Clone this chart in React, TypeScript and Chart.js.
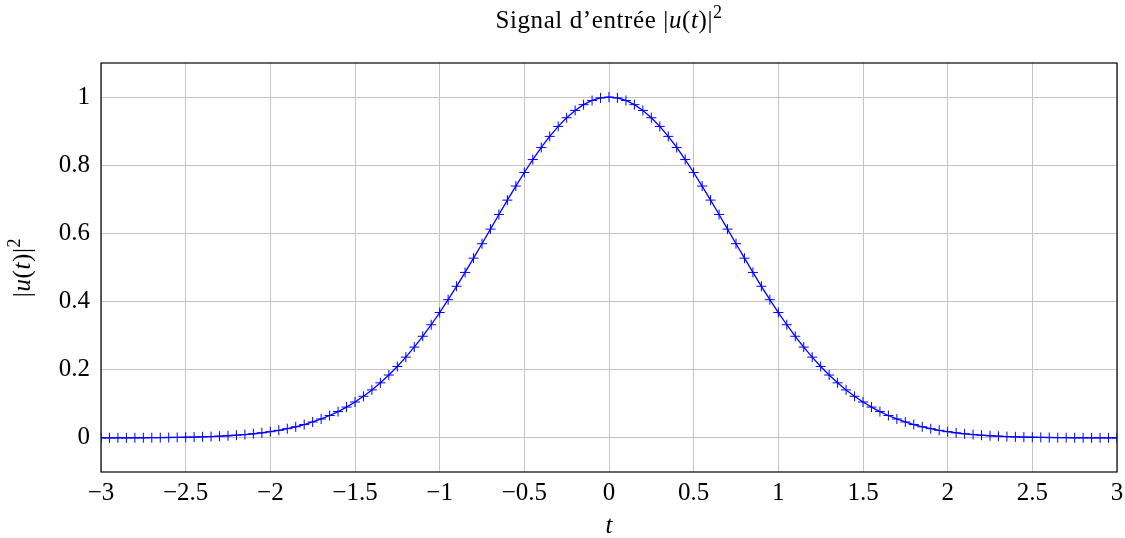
import React, { useEffect, useRef } from "react";
import { Chart, registerables } from "chart.js";

Chart.register(...registerables);

// Sample instants t
const T_VALUES = [
  -3.0, -2.95, -2.9, -2.85, -2.8, -2.75, -2.7, -2.65, -2.6, -2.55,
  -2.5, -2.45, -2.4, -2.35, -2.3, -2.25, -2.2, -2.15, -2.1, -2.05,
  -2.0, -1.95, -1.9, -1.85, -1.8, -1.75, -1.7, -1.65, -1.6, -1.55,
  -1.5, -1.45, -1.4, -1.35, -1.3, -1.25, -1.2, -1.15, -1.1, -1.05,
  -1.0, -0.95, -0.9, -0.85, -0.8, -0.75, -0.7, -0.65, -0.6, -0.55,
  -0.5, -0.45, -0.4, -0.35, -0.3, -0.25, -0.2, -0.15, -0.1, -0.05,
  0.0,
  0.05, 0.1, 0.15, 0.2, 0.25, 0.3, 0.35, 0.4, 0.45, 0.5,
  0.55, 0.6, 0.65, 0.7, 0.75, 0.8, 0.85, 0.9, 0.95, 1.0,
  1.05, 1.1, 1.15, 1.2, 1.25, 1.3, 1.35, 1.4, 1.45, 1.5,
  1.55, 1.6, 1.65, 1.7, 1.75, 1.8, 1.85, 1.9, 1.95, 2.0,
  2.05, 2.1, 2.15, 2.2, 2.25, 2.3, 2.35, 2.4, 2.45, 2.5,
  2.55, 2.6, 2.65, 2.7, 2.75, 2.8, 2.85, 2.9, 2.95, 3.0,
];

// Input signal power |u(t)|^2
const POWER_VALUES = [
  0.00012, 0.00017, 0.00022, 0.0003, 0.00039, 0.00052, 0.00068, 0.00089, 0.00116, 0.0015,
  0.00193, 0.00247, 0.00315, 0.00399, 0.00504, 0.00633, 0.00791, 0.00983, 0.01216, 0.01496,
  0.01832, 0.02231, 0.02705, 0.03263, 0.03916, 0.04677, 0.05558, 0.06571, 0.0773, 0.0905,
  0.1054, 0.12215, 0.14086, 0.16162, 0.18452, 0.20961, 0.23693, 0.26647, 0.2982, 0.33204,
  0.36788, 0.40556, 0.44486, 0.48554, 0.52729, 0.56978, 0.61263, 0.65541, 0.69768, 0.73897,
  0.7788, 0.81669, 0.85214, 0.8847, 0.91393, 0.93941, 0.96079, 0.97775, 0.99005, 0.9975,
  1.0,
  0.9975, 0.99005, 0.97775, 0.96079, 0.93941, 0.91393, 0.8847, 0.85214, 0.81669, 0.7788,
  0.73897, 0.69768, 0.65541, 0.61263, 0.56978, 0.52729, 0.48554, 0.44486, 0.40556, 0.36788,
  0.33204, 0.2982, 0.26647, 0.23693, 0.20961, 0.18452, 0.16162, 0.14086, 0.12215, 0.1054,
  0.0905, 0.0773, 0.06571, 0.05558, 0.04677, 0.03916, 0.03263, 0.02705, 0.02231, 0.01832,
  0.01496, 0.01216, 0.00983, 0.00791, 0.00633, 0.00504, 0.00399, 0.00315, 0.00247, 0.00193,
  0.0015, 0.00116, 0.00089, 0.00068, 0.00052, 0.00039, 0.0003, 0.00022, 0.00017, 0.00012,
];

const X_TICKS = [-3, -2.5, -2, -1.5, -1, -0.5, 0, 0.5, 1, 1.5, 2, 2.5, 3];
const Y_TICKS = [0, 0.2, 0.4, 0.6, 0.8, 1];

const SERIF = '"Liberation Serif", "DejaVu Serif", serif';
const FONT_SIZE = 25;
const TITLE_SIZE = 25;

type Run = { text: string; italic?: boolean; sup?: boolean };

function runFont(r: Run, size: number) {
  const s = r.sup ? Math.round(size * 0.7) : size;
  return `${r.italic ? "italic " : ""}${s}px ${SERIF}`;
}

function drawRuns(
  ctx: CanvasRenderingContext2D,
  runs: Run[],
  cx: number,
  cy: number,
  size: number,
  spacing: number
) {
  (ctx as any).letterSpacing = `${spacing}px`;
  let total = 0;
  for (const r of runs) {
    ctx.font = runFont(r, size);
    total += ctx.measureText(r.text).width;
  }
  let x = cx - total / 2;
  ctx.textBaseline = "middle";
  ctx.textAlign = "left";
  for (const r of runs) {
    ctx.font = runFont(r, size);
    ctx.fillText(r.text, x, r.sup ? cy - size * 0.32 : cy);
    x += ctx.measureText(r.text).width;
  }
  (ctx as any).letterSpacing = "0px";
}

const powerLabel: Run[] = [
  { text: "|" },
  { text: "u", italic: true },
  { text: "(" },
  { text: "t", italic: true },
  { text: ")|" },
  { text: "2", sup: true },
];

// Title, axis titles and the frame of the plot area
const annotations = {
  id: "annotations",
  afterDraw(chart: any) {
    const { ctx, chartArea } = chart;
    const { left, right, top, bottom } = chartArea;
    const cx = (left + right) / 2;
    ctx.save();
    ctx.strokeStyle = "#000";
    ctx.lineWidth = 1.2;
    ctx.strokeRect(left, top, right - left, bottom - top);
    ctx.fillStyle = "#000";
    drawRuns(ctx, [{ text: "Signal d\u2019entrée " }, ...powerLabel], cx, 21, TITLE_SIZE, 0.6);
    drawRuns(ctx, [{ text: "t", italic: true }], cx, 526, FONT_SIZE, 0);
    ctx.translate(23, (top + bottom) / 2);
    ctx.rotate(-Math.PI / 2);
    drawRuns(ctx, powerLabel, 0, 0, FONT_SIZE, 0.6);
    ctx.restore();
  },
};

const fmt = (v: number) => {
  const s = String(Math.round(v * 10) / 10);
  return s.startsWith("-") ? "\u2212" + s.slice(1) : s;
};

export default function App() {
  const canvasRef = useRef<HTMLCanvasElement>(null);

  useEffect(() => {
    const canvas = canvasRef.current;
    if (!canvas) return;
    const points = T_VALUES.map((t, i) => ({ x: t, y: POWER_VALUES[i] }));
    const chart = new Chart(canvas, {
      type: "line",
      data: {
        datasets: [
          {
            data: points,
            borderColor: "#0000ff",
            borderWidth: 1.3,
            pointStyle: "cross",
            pointRadius: 5,
            pointBorderColor: "#0000ff",
            pointBorderWidth: 1,
            pointBackgroundColor: "#0000ff",
            tension: 0,
            fill: false,
          },
        ],
      },
      options: {
        animation: false,
        responsive: false,
        maintainAspectRatio: false,
        layout: { padding: { top: 63, right: 8, left: 0, bottom: 0 } },
        plugins: {
          legend: { display: false },
          tooltip: { enabled: false },
          title: { display: false },
        },
        scales: {
          x: {
            type: "linear",
            min: -3,
            max: 3,
            afterBuildTicks: (s: any) => {
              s.ticks = X_TICKS.map((v) => ({ value: v }));
            },
            afterFit: (s: any) => {
              s.height = 66;
              s.paddingLeft = 0;
              s.paddingRight = 0;
            },
            grid: {
              color: "#c4c4c4",
              lineWidth: 1,
              drawTicks: false,
            },
            border: { display: false },
            ticks: {
              color: "#000",
              padding: 6,
              maxRotation: 0,
              autoSkip: false,
              font: { family: SERIF, size: FONT_SIZE },
              callback: (v: any) => fmt(Number(v)),
            },
          },
          y: {
            type: "linear",
            min: -0.1,
            max: 1.1,
            afterBuildTicks: (s: any) => {
              s.ticks = Y_TICKS.map((v) => ({ value: v }));
            },
            afterFit: (s: any) => {
              s.width = 101;
              s.paddingTop = 0;
              s.paddingBottom = 0;
            },
            grid: {
              color: "#c4c4c4",
              lineWidth: 1,
              drawTicks: false,
            },
            border: { display: false },
            ticks: {
              color: "#000",
              padding: 11,
              autoSkip: false,
              font: { family: SERIF, size: FONT_SIZE },
              callback: (v: any) => fmt(Number(v)),
            },
          },
        },
      },
      plugins: [annotations],
    });
    return () => chart.destroy();
  }, []);

  return (
    <div style={{ position: "absolute", left: 0, top: 0, width: 1125, height: 538, background: "#fff" }}>
      <canvas ref={canvasRef} width={1125} height={538} />
    </div>
  );
}
